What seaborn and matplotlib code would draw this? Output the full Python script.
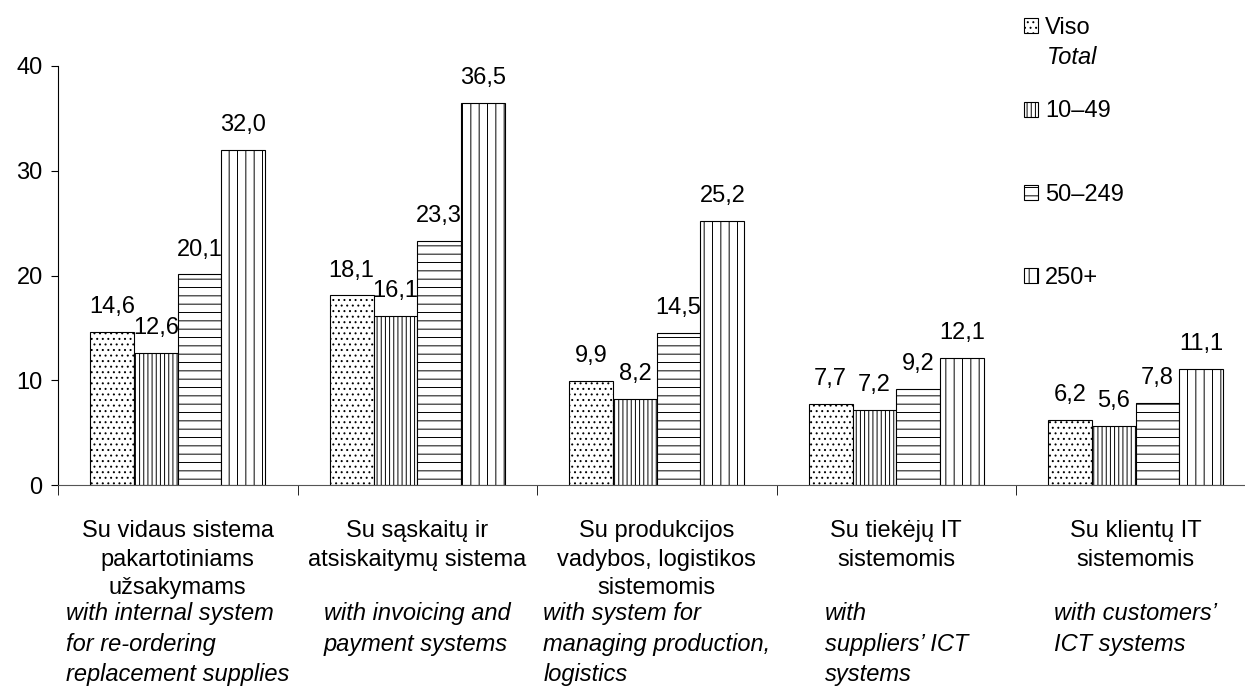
import numpy as np
import pandas as pd
import matplotlib
matplotlib.use("Agg")
import matplotlib.pyplot as plt
import seaborn as sns

# data
categories = ["Su vidaus sistema\npakartotiniams\nužsakymams",
              "Su sąskaitų ir\natsiskaitymų sistema",
              "Su produkcijos\nvadybos, logistikos\nsistemomis",
              "Su tiekėjų IT\nsistemomis",
              "Su klientų IT\nsistemomis"]
categories_en = ["with internal system\nfor re-ordering\nreplacement supplies",
                 "with invoicing and\npayment systems",
                 "with system for\nmanaging production,\nlogistics",
                 "with\nsuppliers’ ICT\nsystems",
                 "with customers’\nICT systems"]
groups = ["Viso", "10–49", "50–249", "250+"]
viso = [14.6, 18.1, 9.9, 7.7, 6.2]
s10_49 = [12.6, 16.1, 8.2, 7.2, 5.6]
s50_249 = [20.1, 23.3, 14.5, 9.2, 7.8]
s250 = [32.0, 36.5, 25.2, 12.1, 11.1]
hatches = ["...", "||||", "--", "||"]

df = pd.DataFrame({
    "cat": categories * 4,
    "group": np.repeat(groups, len(categories)),
    "value": viso + s10_49 + s50_249 + s250,
})

plt.rcParams["font.family"] = ["Liberation Sans", "DejaVu Sans"]
plt.rcParams["hatch.linewidth"] = 0.7
plt.rcParams["hatch.color"] = "black"
fs = 17

fig = plt.figure(figsize=(12.45, 6.86), dpi=100)
ax = fig.add_axes([58 / 1245, 201 / 686, 1197.5 / 1245, 419 / 686])

sns.barplot(data=df, x="cat", y="value", hue="group", hue_order=groups,
            palette=["white"] * 4, edgecolor="black", linewidth=0.8,
            width=0.73, saturation=1, legend=False, ax=ax)

for cont, h in zip(ax.containers, hatches):
    for bar in cont:
        bar.set_hatch(h)
        bar.set_edgecolor("black")
    labels = [f"{v:.1f}".replace(".", ",") for v in cont.datavalues]
    ax.bar_label(cont, labels=labels, padding=10, fontsize=fs)

ax.set_ylim(0, 40)
ax.set_yticks([0, 10, 20, 30, 40])
ax.tick_params(axis="y", labelsize=fs, length=5, pad=6)
ax.set_xlim(-0.5, 4.5)
ax.set_xticks(range(len(categories)))
ax.set_xticklabels(categories, fontsize=fs, linespacing=1.4)
ax.tick_params(axis="x", which="major", length=0, pad=25)
ax.set_xticks(np.arange(-0.5, 5, 1), minor=True)
ax.tick_params(axis="x", which="minor", length=7, direction="out")
ax.set_xlabel("")
ax.set_ylabel("")
sns.despine(ax=ax)
ax.spines["bottom"].set_color("#555555")
ax.spines["left"].set_color("black")

for i, txt in enumerate(categories_en):
    ax.annotate(txt, xy=(i, 0), xycoords=ax.get_xaxis_transform(),
                xytext=(0, -84.5), textcoords="offset points",
                ha="center", va="top", multialignment="left",
                fontsize=fs, style="italic", linespacing=1.4)

handles = [cont.patches[0] for cont in ax.containers]
fig.legend(handles, groups, loc="upper left",
           bbox_to_anchor=(1024 / 1245, 1 - 17 / 686), frameon=False,
           fontsize=fs, handlelength=0.6, handleheight=0.6,
           handletextpad=0.3, labelspacing=2.6, borderpad=0, borderaxespad=0)
fig.text(1047 / 1245, 1 - 58 / 686, "Total", fontsize=fs, style="italic",
         va="center", ha="left")

fig.savefig("out.png", dpi=100)
